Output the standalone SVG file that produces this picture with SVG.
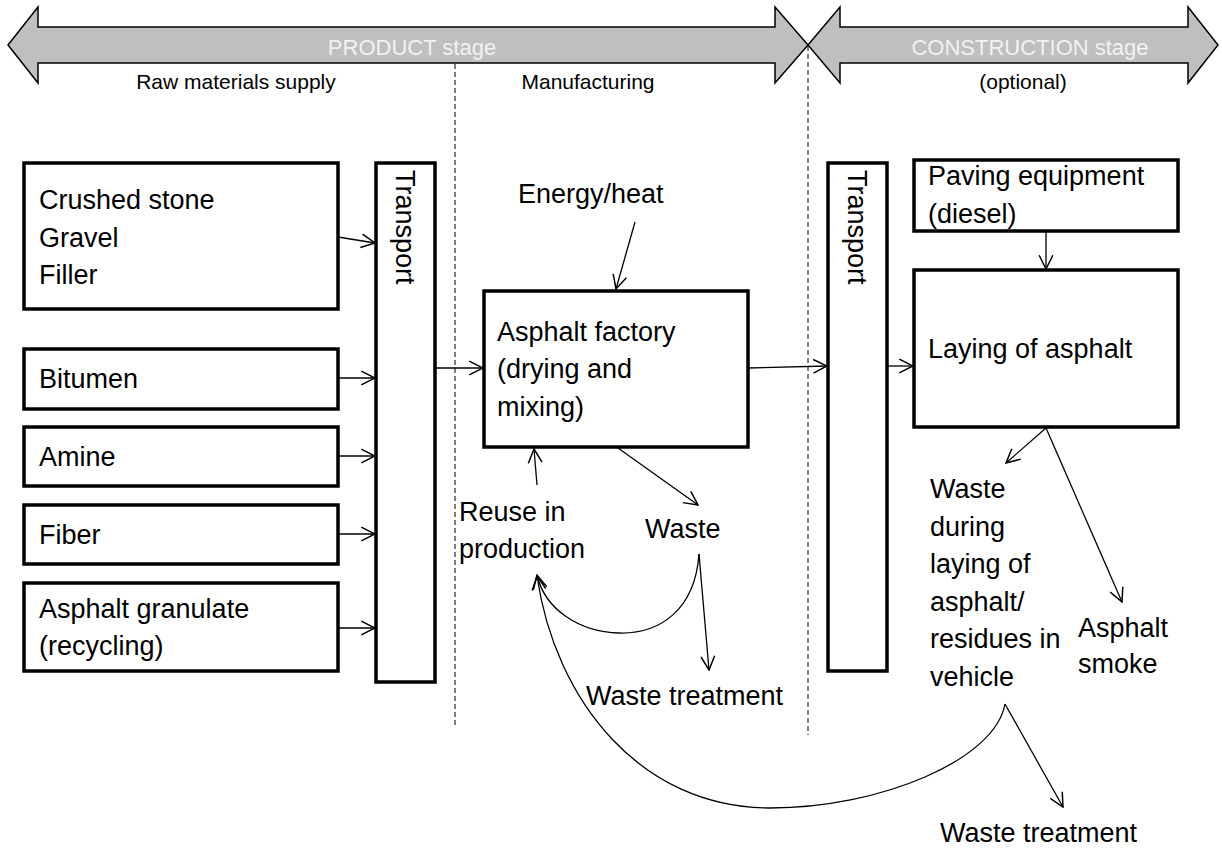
<svg xmlns="http://www.w3.org/2000/svg" width="1222" height="848" viewBox="0 0 1222 848">
<defs>
<style>
.box{fill:#fff;stroke:#000;stroke-width:3.5}
.stage{fill:#BFBFBF;stroke:#000;stroke-width:1.5}
.t{font-family:"Liberation Sans",Arial,sans-serif;font-size:27px;fill:#000}
.s{font-family:"Liberation Sans",Arial,sans-serif;font-size:21px;fill:#000}
.st{font-family:"Liberation Sans",Arial,sans-serif;font-size:22px;fill:#F2F2F2}
.c{fill:none;stroke:#000;stroke-width:1.3}
.d{fill:none;stroke:#000;stroke-width:1;stroke-dasharray:5,3}
</style>
<marker id="ah" markerUnits="userSpaceOnUse" markerWidth="16" markerHeight="16" viewBox="0 0 14 14" refX="13" refY="7" orient="auto">
<path d="M1,1 L13,7 L1,13" fill="none" stroke="#000" stroke-width="1.3"/>
</marker>
</defs>
<rect width="1222" height="848" fill="#fff"/>

<g id="stage-product">
<path class="stage" d="M8,45 L38,7 L38,27 L775,27 L775,7 L808,45 L775,83 L775,63 L38,63 L38,83 Z"/>
<text class="st" x="412" y="55" text-anchor="middle">PRODUCT stage</text>
</g>
<g id="stage-construction">
<path class="stage" d="M808,45 L840,7 L840,27 L1188,27 L1188,7 L1218,45 L1188,83 L1188,63 L840,63 L840,83 Z"/>
<text class="st" x="1030" y="55" text-anchor="middle">CONSTRUCTION stage</text>
</g>
<g id="labels">
<text class="s" x="236" y="89" text-anchor="middle">Raw materials supply</text>
<text class="s" x="588" y="89" text-anchor="middle">Manufacturing</text>
<text class="s" x="1023" y="89" text-anchor="middle">(optional)</text>
</g>
<g id="dividers">
<line class="d" x1="455" y1="64" x2="455" y2="728"/>
<line class="d" x1="808" y1="46" x2="808" y2="735"/>
</g>

<g id="crushed-stone">
<rect class="box" x="24" y="163" width="314" height="146"/>
<text class="t" x="39" y="209">Crushed stone</text>
<text class="t" x="39" y="247">Gravel</text>
<text class="t" x="39" y="284">Filler</text>
</g>
<g id="bitumen">
<rect class="box" x="24" y="349" width="314" height="60"/>
<text class="t" x="39" y="388">Bitumen</text>
</g>
<g id="amine">
<rect class="box" x="24" y="427" width="314" height="59"/>
<text class="t" x="39" y="466">Amine</text>
</g>
<g id="fiber">
<rect class="box" x="24" y="505" width="314" height="59"/>
<text class="t" x="39" y="544">Fiber</text>
</g>
<g id="asphalt-granulate">
<rect class="box" x="24" y="583" width="314" height="88"/>
<text class="t" x="39" y="618">Asphalt granulate</text>
<text class="t" x="39" y="655">(recycling)</text>
</g>
<g id="transport-1">
<rect class="box" x="376" y="163" width="59" height="519"/>
<text class="t" transform="translate(396,170) rotate(90)">Transport</text>
</g>
<g id="energy-heat">
<text class="t" x="518" y="203">Energy/heat</text>
</g>
<g id="asphalt-factory">
<rect class="box" x="484" y="291" width="264" height="156"/>
<text class="t" x="497" y="341">Asphalt factory</text>
<text class="t" x="497" y="378">(drying and</text>
<text class="t" x="497" y="416">mixing)</text>
</g>
<g id="reuse">
<text class="t" x="459" y="521">Reuse in</text>
<text class="t" x="459" y="558">production</text>
</g>
<g id="waste-1">
<text class="t" x="645" y="538">Waste</text>
</g>
<g id="waste-treatment-1">
<text class="t" x="586" y="705">Waste treatment</text>
</g>
<g id="transport-2">
<rect class="box" x="828" y="163" width="59" height="508"/>
<text class="t" transform="translate(848,170) rotate(90)">Transport</text>
</g>
<g id="paving-equipment">
<rect class="box" x="914" y="160" width="264" height="71"/>
<text class="t" x="928" y="185">Paving equipment</text>
<text class="t" x="928" y="223">(diesel)</text>
</g>
<g id="laying">
<rect class="box" x="914" y="270" width="264" height="157"/>
<text class="t" x="928" y="358">Laying of asphalt</text>
</g>
<g id="waste-2">
<text class="t" x="930" y="498">Waste</text>
<text class="t" x="930" y="536">during</text>
<text class="t" x="930" y="573">laying of</text>
<text class="t" x="930" y="611">asphalt/</text>
<text class="t" x="930" y="648">residues in</text>
<text class="t" x="930" y="686">vehicle</text>
</g>
<g id="asphalt-smoke">
<text class="t" x="1078" y="637">Asphalt</text>
<text class="t" x="1078" y="673">smoke</text>
</g>
<g id="waste-treatment-2">
<text class="t" x="940" y="842">Waste treatment</text>
</g>

<g id="connectors">
<line class="c" x1="338" y1="237" x2="375" y2="243" marker-end="url(#ah)"/>
<line class="c" x1="338" y1="378" x2="375" y2="378" marker-end="url(#ah)"/>
<line class="c" x1="338" y1="456" x2="375" y2="456" marker-end="url(#ah)"/>
<line class="c" x1="338" y1="534" x2="375" y2="534" marker-end="url(#ah)"/>
<line class="c" x1="338" y1="628" x2="375" y2="628" marker-end="url(#ah)"/>
<line class="c" x1="436" y1="368" x2="483" y2="368" marker-end="url(#ah)"/>
<line class="c" x1="635" y1="222" x2="616" y2="289" marker-end="url(#ah)"/>
<line class="c" x1="537" y1="485" x2="534" y2="449" marker-end="url(#ah)"/>
<line class="c" x1="618" y1="448" x2="698" y2="505" marker-end="url(#ah)"/>
<line class="c" x1="748" y1="368" x2="827" y2="366" marker-end="url(#ah)"/>
<line class="c" x1="888" y1="366" x2="913" y2="366" marker-end="url(#ah)"/>
<line class="c" x1="1046" y1="232" x2="1046" y2="269" marker-end="url(#ah)"/>
<line class="c" x1="1046" y1="428" x2="1006" y2="463" marker-end="url(#ah)"/>
<line class="c" x1="1046" y1="428" x2="1122" y2="602" marker-end="url(#ah)"/>
<line class="c" x1="699" y1="554" x2="709" y2="670" marker-end="url(#ah)"/>
<path class="c" d="M699,554 C695,610 660,634 619,633 C580,632 545,610 537,575" marker-end="url(#ah)"/>
<line class="c" x1="1005" y1="704" x2="1063" y2="807" marker-end="url(#ah)"/>
<path class="c" d="M1005,704 C995,760 880,808 770,808 C640,808 555,700 537,576" marker-end="url(#ah)"/>
</g>
</svg>
